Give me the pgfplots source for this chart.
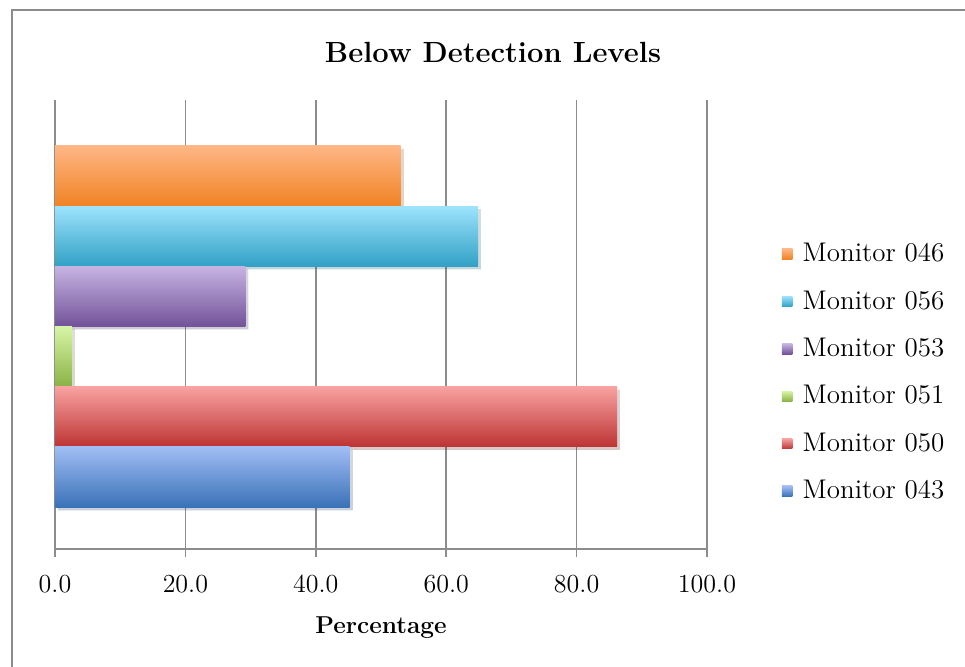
\documentclass[border=0pt]{standalone}
\usepackage{pgfplots}
\pgfplotsset{compat=1.18}
\usetikzlibrary{shadows}
\definecolor{gridgray}{HTML}{8C8C8C}
\definecolor{orT}{RGB}{255,183,133}\definecolor{orB}{RGB}{240,130,36}
\definecolor{cyT}{RGB}{157,227,253}\definecolor{cyB}{RGB}{49,161,197}
\definecolor{puT}{RGB}{198,180,226}\definecolor{puB}{RGB}{114,82,153}
\definecolor{grT}{RGB}{215,245,166}\definecolor{grB}{RGB}{138,178,68}
\definecolor{reT}{RGB}{248,162,161}\definecolor{reB}{RGB}{188,52,51}
\definecolor{blT}{RGB}{161,189,245}\definecolor{blB}{RGB}{58,114,184}
\pgfplotsset{bs/.style={draw=none, forget plot,
    drop shadow={opacity=0.13, shadow xshift=1.5pt, shadow yshift=-1.5pt, fill=black}}}
\begin{document}
\begin{tikzpicture}
% frame: only top and left edges are visible in the crop
\path[use as bounding box] (-27.5pt,-58.5pt) rectangle (455pt,274.5pt);
\draw[gridgray,line width=0.8pt] (-21.5pt,-70pt) -- (-21.5pt,269.5pt) -- (470pt,269.5pt);
\begin{axis}[
  scale only axis,
  width=326pt, height=224.5pt,
  xmin=0, xmax=100, ymin=-0.198, ymax=7.264,
  axis x line*=bottom, axis y line=none,
  xtick={0,20,...,100},
  xmajorgrids=true,
  grid style={gridgray, line width=0.75pt},
  axis line style={gridgray, line width=0.75pt},
  x axis line style={-},
  tick align=outside,
  major tick length=4pt,
  xtick style={gridgray, line width=0.75pt},
  xticklabel style={font=\fontsize{13}{15}\selectfont, yshift=-5.5pt,
    /pgf/number format/.cd, fixed, fixed zerofill, precision=1, assume math mode=true},
  xlabel={\textbf{Percentage}},
  xlabel style={font=\fontsize{12.2}{14}\selectfont, yshift=-5pt},
  xbar, bar width=1, bar shift=0pt,
  legend style={at={(1.105,0.393)}, anchor=west, draw=none, fill=none,
    font=\fontsize{13.5}{15}\selectfont, row sep=9pt,
    legend cell align=left},
  legend image code/.code={\path[#1,draw=none] (0pt,-2.6pt) rectangle (5.2pt,2.6pt);
    \path (8.2pt,0pt);},
]
\addplot[bs, top color=orT, bottom color=orB] coordinates {(53.0,6)};
\addplot[bs, top color=cyT, bottom color=cyB] coordinates {(64.9,5)};
\addplot[bs, top color=puT, bottom color=puB] coordinates {(29.2,4)};
\addplot[bs, top color=grT, bottom color=grB] coordinates {(2.6,3)};
\addplot[bs, top color=reT, bottom color=reB] coordinates {(86.2,2)};
\addplot[bs, top color=blT, bottom color=blB] coordinates {(45.2,1)};
\addlegendimage{top color=orT, bottom color=orB}
\addlegendimage{top color=cyT, bottom color=cyB}
\addlegendimage{top color=puT, bottom color=puB}
\addlegendimage{top color=grT, bottom color=grB}
\addlegendimage{top color=reT, bottom color=reB}
\addlegendimage{top color=blT, bottom color=blB}
\legend{Monitor 046, Monitor 056, Monitor 053, Monitor 051, Monitor 050, Monitor 043}
\end{axis}
\node[font=\bfseries\fontsize{14.6}{17}\selectfont] at (219pt,248.5pt) {Below Detection Levels};
\end{tikzpicture}
\end{document}
